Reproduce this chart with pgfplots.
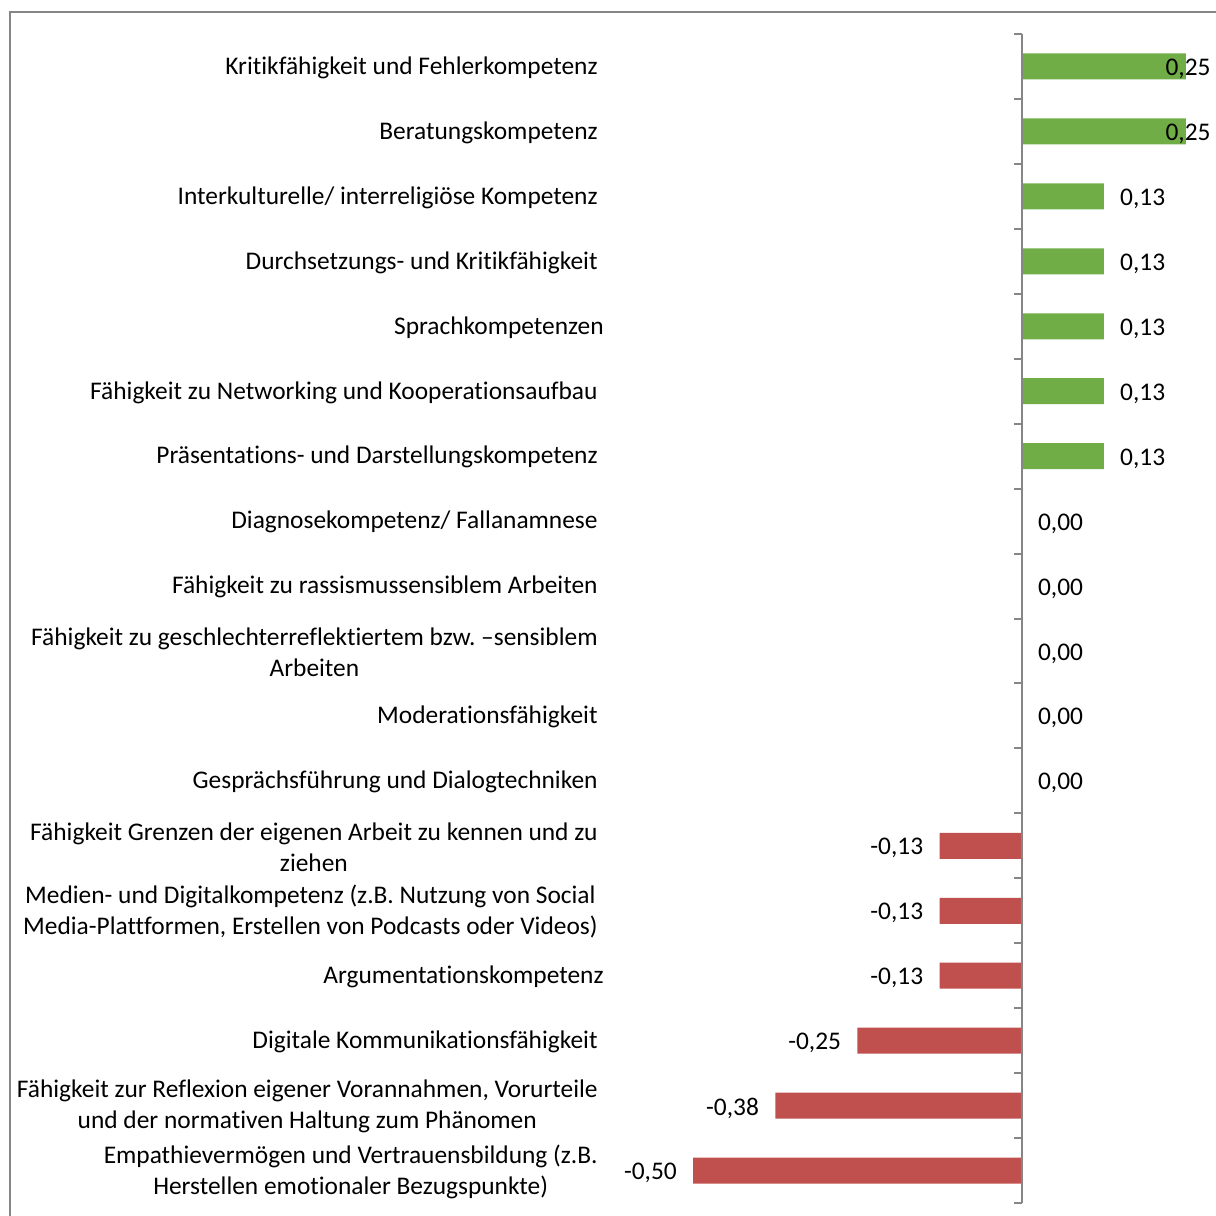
\documentclass[border=0pt]{standalone}
\usepackage{fontspec}
\setmainfont{Carlito}[RawFeature={-liga;-clig}]
\usepackage{pgfplots}
\pgfplotsset{compat=1.18}
\definecolor{bargreen}{HTML}{70AD47}
\definecolor{barred}{HTML}{C0504D}
\definecolor{axgray}{HTML}{868686}
\newcommand{\lf}{\fontsize{12.7pt}{15.5pt}\selectfont\frenchspacing}
\begin{document}
\frenchspacing
\begin{tikzpicture}
\useasboundingbox (0,0) rectangle (608pt,608pt);
\draw[axgray, line width=1pt] (5pt,-10pt) -- (5pt,602pt) -- (620pt,602pt);
\begin{axis}[
  at={(300.6pt,6.5pt)}, anchor=south west,
  scale only axis, width=307.15pt, height=584.5pt,
  xmin=-0.64, xmax=0.295, ymin=0.5, ymax=18.5,
  enlargelimits=false, y dir=reverse,
  axis lines*=left, axis line style={draw=none},
  xtick=\empty, ytick={1,...,18}, major tick length=0pt,
  yticklabel style={anchor=east, inner sep=0pt, xshift=-1.6pt, yshift=-0.6pt, align=center, font=\lf},
  yticklabels={
    Kritikfähigkeit und Fehlerkompetenz,
    Beratungskompetenz,
    Interkulturelle/ interreligiöse Kompetenz,
    Durchsetzungs- und Kritikfähigkeit,
    Sprachkompetenzen\kern-3pt,
    Fähigkeit zu Networking und Kooperationsaufbau,
    Präsentations- und Darstellungskompetenz,
    Diagnosekompetenz/ Fallanamnese,
    Fähigkeit zu rassismussensiblem Arbeiten,
    {Fähigkeit zu geschlechterreflektiertem bzw. –sensiblem\\Arbeiten},
    Moderationsfähigkeit,
    Gesprächsführung und Dialogtechniken,
    {Fähigkeit Grenzen der eigenen Arbeit zu kennen und zu\\ziehen},
    {Medien- und Digitalkompetenz (z.B. Nutzung von Social\\Media-Plattformen, Erstellen von Podcasts oder Videos)},
    Argumentationskompetenz\kern-3pt,
    Digitale Kommunikationsfähigkeit,
    {Fähigkeit zur Reflexion eigener Vorannahmen, Vorurteile\\und der normativen Haltung zum Phänomen},
    {Empathievermögen und Vertrauensbildung (z.B.\\Herstellen emotionaler Bezugspunkte)}
  },
  xbar, bar width=13pt, bar shift=0pt,
  point meta=explicit symbolic,
  nodes near coords, nodes near coords style={font=\lf, inner sep=0pt, text=black, yshift=-1.2pt},
  clip=false,
]
% 0.25 bars (label pulled inside)
\addplot[fill=bargreen, draw=none, nodes near coords style={anchor=east, xshift=12.5pt}]
  coordinates {(0.25,1)[0,25] (0.25,2)[0,25]};
% 0.125 bars
\addplot[fill=bargreen, draw=none, nodes near coords style={anchor=west, xshift=8pt}]
  coordinates {(0.125,3)[0,13] (0.125,4)[0,13] (0.125,5)[0,13] (0.125,6)[0,13] (0.125,7)[0,13]};
% zero values
\addplot[fill=none, draw=none, nodes near coords style={anchor=west, xshift=8pt}]
  coordinates {(0,8)[0,00] (0,9)[0,00] (0,10)[0,00] (0,11)[0,00] (0,12)[0,00]};
% negative values
\addplot[fill=barred, draw=none, nodes near coords style={anchor=east, xshift=-8pt}]
  coordinates {(-0.125,13)[-0,13] (-0.125,14)[-0,13] (-0.125,15)[-0,13] (-0.25,16)[-0,25] (-0.375,17)[-0,38] (-0.5,18)[-0,50]};
% vertical axis at zero with tick marks between categories
\draw[axgray, line width=1pt] (axis cs:0,0.5) -- (axis cs:0,18.5);
\pgfplotsinvokeforeach{0.5,1.5,...,18.5}{\draw[axgray, line width=1pt] (axis cs:0,#1) -- (axis cs:-0.0122,#1);}
\end{axis}
\end{tikzpicture}
\end{document}
